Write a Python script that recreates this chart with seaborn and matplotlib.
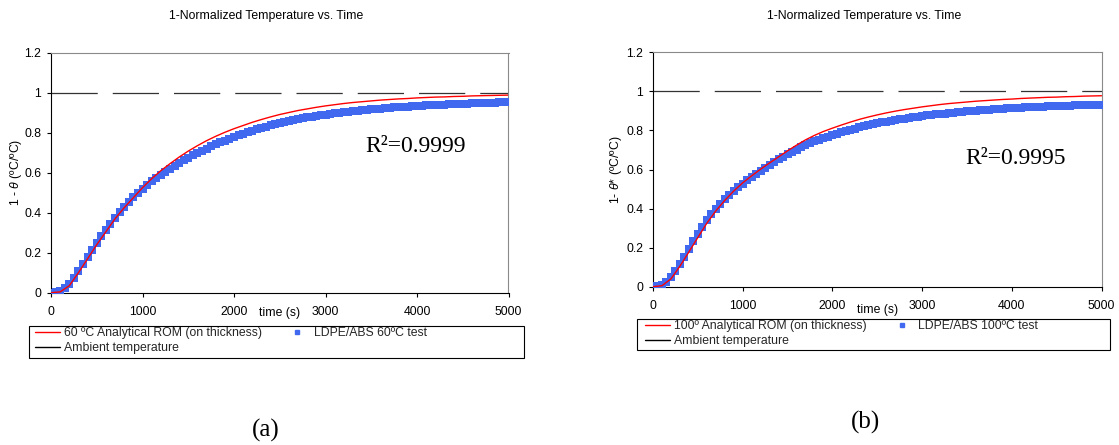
import matplotlib
matplotlib.use("Agg")
import matplotlib.pyplot as plt
from matplotlib.patches import Rectangle
from matplotlib.lines import Line2D
import pandas as pd
import seaborn as sns

# ---------------- data ----------------
# analytical ROM curves, sampled every 100 s
model_time = [0, 100, 200, 300, 400, 500, 600, 700, 800, 900,
              1000, 1100, 1200, 1300, 1400, 1500, 1600, 1700, 1800, 1900,
              2000, 2100, 2200, 2300, 2400, 2500, 2600, 2700, 2800, 2900,
              3000, 3100, 3200, 3300, 3400, 3500, 3600, 3700, 3800, 3900,
              4000, 4100, 4200, 4300, 4400, 4500, 4600, 4700, 4800, 4900, 5000]

rom_60 = [0.0, 0.004, 0.035, 0.100, 0.170, 0.240, 0.305, 0.370, 0.425, 0.475,
          0.525, 0.570, 0.610, 0.645, 0.678, 0.708, 0.735, 0.760, 0.782, 0.802,
          0.820, 0.836, 0.852, 0.866, 0.879, 0.891, 0.901, 0.911, 0.919, 0.927,
          0.934, 0.940, 0.946, 0.951, 0.955, 0.959, 0.963, 0.966, 0.969, 0.971,
          0.974, 0.976, 0.978, 0.979, 0.981, 0.982, 0.984, 0.985, 0.986, 0.987, 0.988]

rom_100 = [0.0, 0.005, 0.040, 0.105, 0.178, 0.252, 0.325, 0.388, 0.442, 0.490,
           0.532, 0.568, 0.602, 0.634, 0.665, 0.696, 0.725, 0.752, 0.775, 0.795,
           0.812, 0.828, 0.843, 0.857, 0.869, 0.880, 0.890, 0.899, 0.907, 0.914,
           0.921, 0.927, 0.933, 0.938, 0.942, 0.946, 0.950, 0.953, 0.956, 0.959,
           0.961, 0.964, 0.966, 0.968, 0.970, 0.971, 0.973, 0.974, 0.976, 0.977, 0.978]

# measured data, logged every 50 s
test_time = list(range(0, 5001, 50))

test_60 = [0.000, 0.002, 0.010, 0.025, 0.045, 0.075, 0.110, 0.145, 0.180, 0.215,
           0.250, 0.283, 0.315, 0.345, 0.375, 0.403, 0.430, 0.455, 0.478, 0.500,
           0.520, 0.538, 0.556, 0.573, 0.589, 0.605, 0.620, 0.635, 0.649, 0.662,
           0.675, 0.687, 0.698, 0.709, 0.720, 0.731, 0.741, 0.751, 0.760, 0.769,
           0.778, 0.787, 0.795, 0.803, 0.810, 0.817, 0.824, 0.830, 0.836, 0.842,
           0.848, 0.853, 0.858, 0.863, 0.868, 0.872, 0.876, 0.880, 0.884, 0.887,
           0.890, 0.893, 0.896, 0.899, 0.902, 0.905, 0.907, 0.910, 0.912, 0.914,
           0.916, 0.918, 0.920, 0.922, 0.924, 0.926, 0.927, 0.929, 0.930, 0.932,
           0.933, 0.934, 0.936, 0.937, 0.938, 0.939, 0.940, 0.941, 0.942, 0.943,
           0.944, 0.945, 0.946, 0.947, 0.948, 0.948, 0.949, 0.950, 0.951, 0.951,
           0.952]

test_100 = [0.000, 0.003, 0.010, 0.025, 0.050, 0.080, 0.115, 0.152, 0.192, 0.232,
            0.270, 0.305, 0.340, 0.370, 0.400, 0.425, 0.448, 0.470, 0.490, 0.510,
            0.528, 0.545, 0.562, 0.578, 0.594, 0.609, 0.624, 0.638, 0.652, 0.665,
            0.678, 0.690, 0.702, 0.713, 0.724, 0.734, 0.744, 0.753, 0.761, 0.769,
            0.777, 0.784, 0.791, 0.798, 0.804, 0.810, 0.816, 0.821, 0.827, 0.832,
            0.837, 0.841, 0.846, 0.850, 0.854, 0.858, 0.861, 0.865, 0.868, 0.871,
            0.874, 0.877, 0.880, 0.882, 0.885, 0.887, 0.890, 0.892, 0.894, 0.896,
            0.898, 0.900, 0.902, 0.904, 0.905, 0.907, 0.909, 0.910, 0.911, 0.913,
            0.914, 0.915, 0.917, 0.918, 0.919, 0.920, 0.921, 0.922, 0.923, 0.924,
            0.925, 0.926, 0.927, 0.928, 0.929, 0.930, 0.930, 0.931, 0.932, 0.933,
            0.933]

ambient_time = [0, 5000]
ambient = [1.0, 1.0]

x_ticks = [0, 1000, 2000, 3000, 4000, 5000]
y_ticks = [0, 0.2, 0.4, 0.6, 0.8, 1.0, 1.2]
y_tick_labels = ["0", "0.2", "0.4", "0.6", "0.8", "1", "1.2"]

title = "1-Normalized Temperature vs. Time"
x_label = "time (s)"
panels = [
    dict(model=rom_60, test=test_60,
         ylabel=r"1 - $\theta$ (ºC/ºC)",
         model_label="60 ºC Analytical ROM (on thickness)",
         test_label="LDPE/ABS 60ºC test",
         r2="R²=0.9999", caption="(a)"),
    dict(model=rom_100, test=test_100,
         ylabel=r"1- $\theta$* (ºC/ºC)",
         model_label="100º Analytical ROM (on thickness)",
         test_label="LDPE/ABS 100ºC test",
         r2="R²=0.9995", caption="(b)"),
]
ambient_label = "Ambient temperature"

# ---------------- style ----------------
sns.set_theme(style="white")
plt.rcParams["font.family"] = ["Liberation Sans", "DejaVu Sans"]
plt.rcParams["mathtext.fontset"] = "custom"
plt.rcParams["mathtext.rm"] = "Liberation Sans"
plt.rcParams["mathtext.it"] = "Liberation Sans:italic"

W, H = 1119, 445
fig = plt.figure(figsize=(W / 100, H / 100), dpi=100)
fig.patch.set_facecolor("white")


def fx(px):
    return px / W


def fy(py):
    return 1 - py / H


RED = "#FF0000"
BLUE = "#4169F0"
FS = 8.8

# pixel geometry of each panel
geom = [
    dict(ax=(51, 52.7, 508.5, 292.7), title_x=266, caption=(266, 430),
         ylabel_x=16, r2=(416, 147), xlab_dy=20.5,
         leg_box=(28.5, 326, 523.5, 358), leg_anchor=(35, 327)),
    dict(ax=(653, 52.4, 1101.5, 286.7), title_x=864, caption=(865, 422),
         ylabel_x=616, r2=(1016, 158), xlab_dy=23,
         leg_box=(637, 319, 1110, 349.5), leg_anchor=(645, 320)),
]

for p, g in zip(panels, geom):
    x0, y0, x1, y1 = g["ax"]
    ax = fig.add_axes([fx(x0), fy(y1), (x1 - x0) / W, (y1 - y0) / H])
    ax.set_facecolor("white")

    df_model = pd.DataFrame({"t": model_time, "v": p["model"]})
    df_test = pd.DataFrame({"t": test_time, "v": p["test"]})
    df_amb = pd.DataFrame({"t": ambient_time, "v": ambient})

    sns.lineplot(data=df_amb, x="t", y="v", ax=ax, color="#333333",
                 linewidth=0.9, zorder=2)
    ax.lines[-1].set_linestyle((0, (37, 12)))
    sns.scatterplot(data=df_test, x="t", y="v", ax=ax, marker="s", s=30,
                    color=BLUE, linewidth=0, zorder=3)
    sns.lineplot(data=df_model, x="t", y="v", ax=ax, color=RED,
                 linewidth=1.0, zorder=4)

    ax.set_xlim(0, 5000)
    ax.set_ylim(0, 1.2)
    ax.set_xticks(x_ticks)
    ax.set_xticklabels([str(v) for v in x_ticks])
    ax.set_yticks(y_ticks)
    ax.set_yticklabels(y_tick_labels)
    ax.set_xlabel("")
    ax.set_ylabel("")
    ax.tick_params(axis="both", which="both", direction="out", length=3,
                   width=0.8, color="black", labelsize=FS, pad=4,
                   labelcolor="black", bottom=True, left=True,
                   top=False, right=False)
    ax.tick_params(axis="x", pad=6.5)
    for side in ("left", "bottom"):
        ax.spines[side].set_color("black")
        ax.spines[side].set_linewidth(0.8)
    for side in ("top", "right"):
        ax.spines[side].set_color("#8a8a8a")
        ax.spines[side].set_linewidth(0.8)
    ax.grid(False)

    # axis titles
    ax.text(0.5, -g["xlab_dy"] / (y1 - y0), x_label, transform=ax.transAxes,
            ha="center", va="center", fontsize=FS, color="black")
    fig.text(fx(g["ylabel_x"]), fy((y0 + y1) / 2), p["ylabel"], rotation=90,
             ha="center", va="center", fontsize=FS, color="black")

    # chart title and caption
    fig.text(fx(g["title_x"]), fy(16), title, ha="center", va="center",
             fontsize=FS, color="black")
    fig.text(fx(g["caption"][0]), fy(g["caption"][1]), p["caption"],
             ha="center", va="center", fontsize=18, color="black",
             family="Liberation Serif")

    # goodness of fit
    fig.text(fx(g["r2"][0]), fy(g["r2"][1]), p["r2"], ha="center",
             va="center", fontsize=17, color="black", family="Liberation Serif")

    # legend with a plain rectangular frame
    bx0, by0, bx1, by1 = g["leg_box"]
    fig.patches.append(Rectangle((fx(bx0), fy(by1)), (bx1 - bx0) / W,
                                 (by1 - by0) / H, transform=fig.transFigure,
                                 fill=False, edgecolor="black", linewidth=0.8))
    handles = [
        Line2D([], [], color=RED, linewidth=1.0),
        Line2D([], [], color="black", linewidth=1.0),
        Line2D([], [], color=BLUE, marker="s", linestyle="none", markersize=3.2),
    ]
    labels = [p["model_label"], ambient_label, p["test_label"]]
    fig.legend(handles, labels, ncol=2, frameon=False, fontsize=FS,
               loc="upper left",
               bbox_to_anchor=(fx(g["leg_anchor"][0]), fy(g["leg_anchor"][1])),
               bbox_transform=fig.transFigure, borderaxespad=0, borderpad=0,
               handlelength=2.05, handletextpad=0.3, labelspacing=0.25,
               columnspacing=1.9)

fig.savefig("out.png", dpi=100, facecolor="white")
